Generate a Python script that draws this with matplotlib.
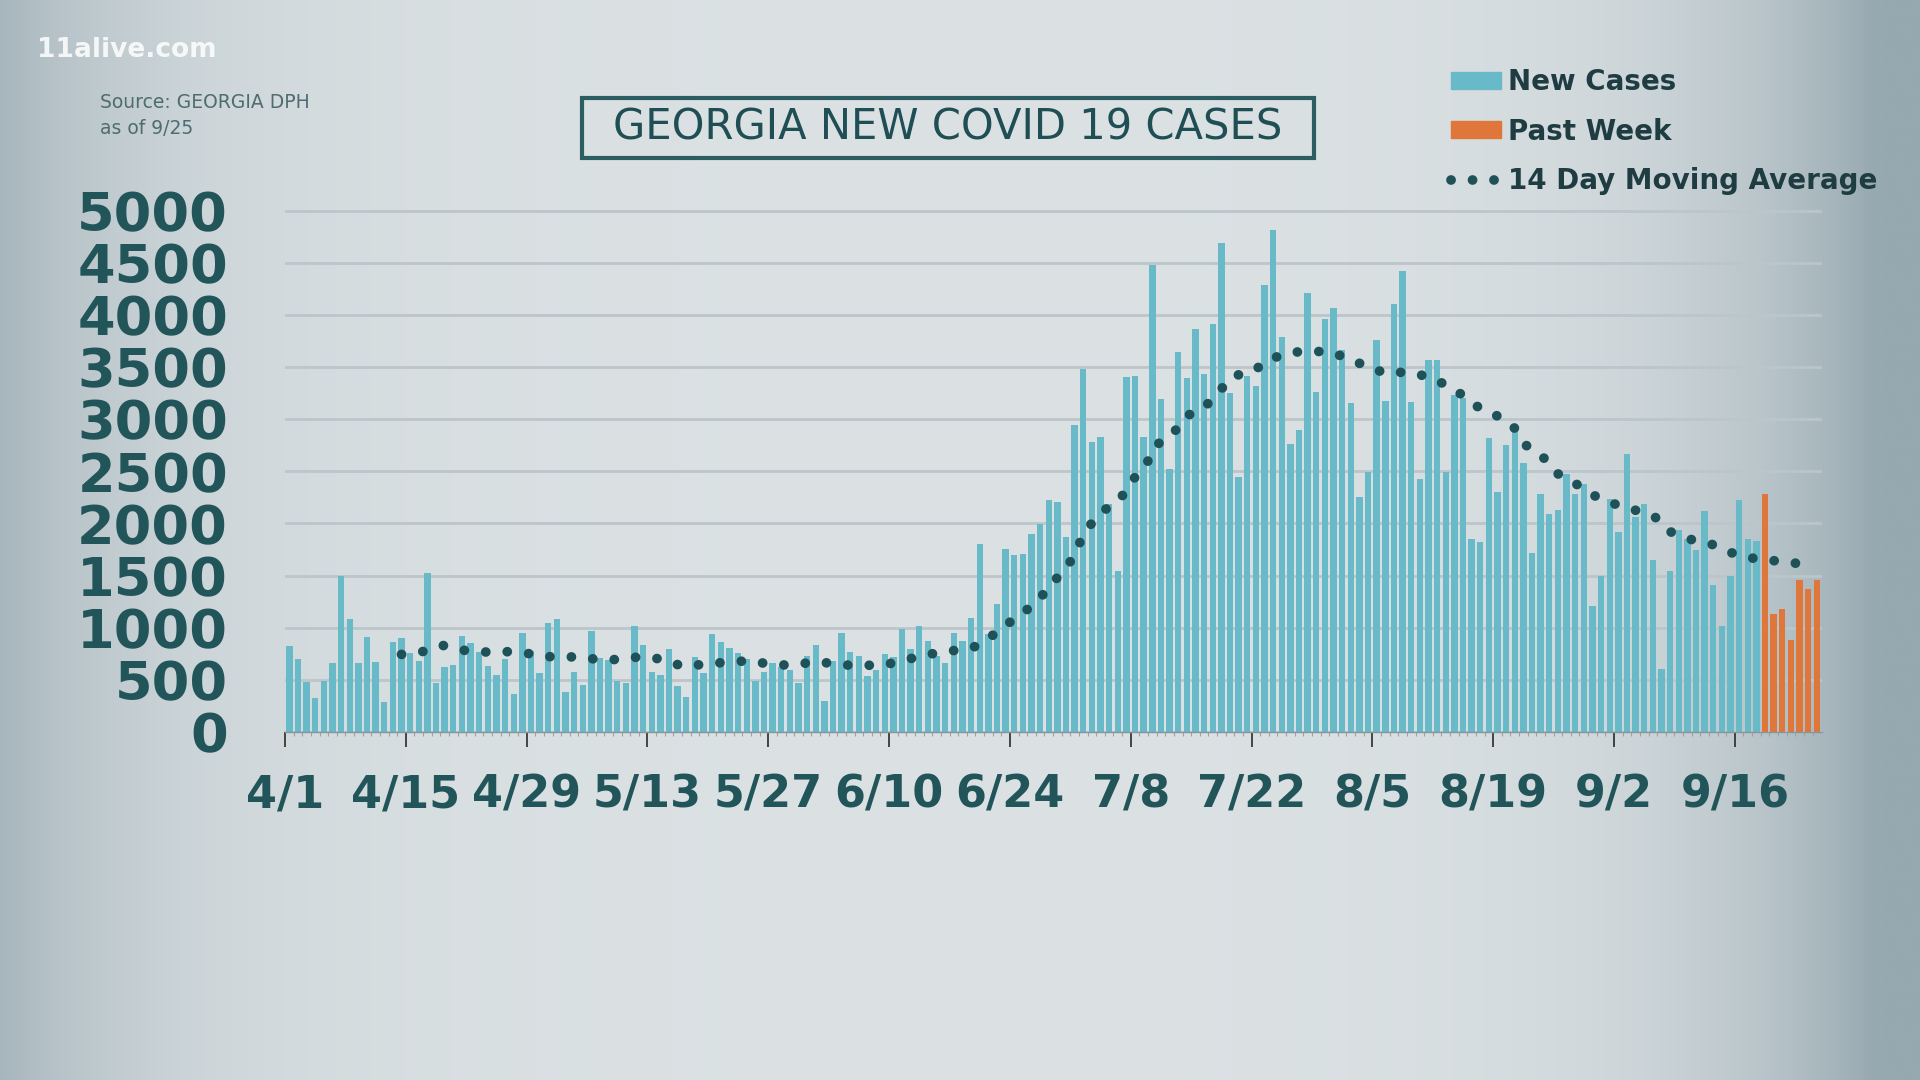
import numpy as np
import matplotlib
matplotlib.use('Agg')
import matplotlib.pyplot as plt
from matplotlib.patches import Patch, Rectangle
from matplotlib.lines import Line2D

# daily new cases 4/1 .. 9/18
new_cases = [
    820, 700, 479, 330, 489, 661, 1494, 1081, 661, 909,
    674, 288, 863, 902, 760, 678, 1527, 469, 621, 644,
    925, 849, 770, 634, 542, 700, 367, 948, 777, 562,
    1041, 1081, 387, 572, 453, 965, 711, 694, 489, 469,
    1021, 836, 572, 545, 793, 440, 337, 720, 562, 942,
    859, 810, 754, 700, 489, 572, 661, 621, 595, 469,
    727, 833, 297, 678, 949, 770, 727, 535, 595, 750,
    717, 992, 793, 1018, 876, 727, 661, 949, 876, 1097,
    1801, 942, 1229, 1752, 1695, 1709, 1900, 1990, 2221, 2204,
    1867, 2941, 3477, 2783, 2826, 2191, 1543, 3404, 3414, 2832,
    4478, 3189, 2518, 3645, 3398, 3867, 3437, 3910, 4686, 3249,
    2446, 3414, 3318, 4287, 4815, 3784, 2766, 2892, 4207, 3265,
    3959, 4065, 3662, 3156, 2254, 2495, 3761, 3179, 4105, 4422,
    3166, 2429, 3563, 3563, 2495, 3229, 3199, 1851, 1824, 2816,
    2297, 2753, 2885, 2578, 1719, 2280, 2092, 2132, 2479, 2287,
    2380, 1213, 1494, 2231, 1917, 2670, 2066, 2191, 1653, 605,
    1543, 1940, 1851, 1745, 2122, 1411, 1018, 1494, 2221, 1851,
    1834,
]
# 9/19 .. 9/25
past_week = [2280, 1130, 1180, 882, 1461, 1372, 1461]

# 14 day moving average (day index from 4/1, value)
ma_days = [13.0, 15.4, 17.8, 20.3, 22.8, 25.3, 28.0, 30.4, 32.8, 35.4,
           38.0, 40.5, 43.2, 45.6, 48.2, 50.9, 53.4, 56.0, 58.5, 61.1,
           63.7, 66.3, 69.0, 71.5, 74.0, 76.6, 79.1, 81.3, 83.3, 85.4,
           87.2, 88.8, 90.4, 91.5, 92.7, 94.4, 96.3, 97.6, 99.3, 100.3,
           102.4, 103.8, 106.0, 107.7, 109.3, 111.7, 113.5, 116.1, 118.2, 120.5,
           122.8, 125.1, 127.2, 129.4, 131.8, 133.8, 136.0, 137.9, 139.9, 141.9,
           143.3, 145.2, 146.8, 148.8, 151.0, 153.4, 155.8, 158.2, 159.9, 162.4,
           164.8, 167.1, 169.4, 172.0, 174.3, 176.7]
ma_values = [744, 770, 830, 783, 767, 770, 750, 720, 720, 700,
             694, 720, 700, 628, 651, 671, 684, 644, 642, 678,
             644, 638, 644, 694, 744, 777, 803, 915, 1041, 1167,
             1305, 1462, 1619, 1801, 1976, 2125, 2237, 2406, 2565, 2743,
             2859, 3024, 3110, 3262, 3411, 3460, 3573, 3642, 3649, 3649,
             3579, 3497, 3437, 3454, 3411, 3338, 3229, 3107, 3034, 2922,
             2750, 2644, 2485, 2396, 2274, 2191, 2132, 2066, 1924, 1847,
             1801, 1719, 1669, 1643, 1626, 1550]

tick_days = [0, 14, 28, 42, 56, 70, 84, 98, 112, 126, 140, 154, 168]
tick_labels = ['4/1', '4/15', '4/29', '5/13', '5/27', '6/10', '6/24',
               '7/8', '7/22', '8/5', '8/19', '9/2', '9/16']
y_ticks = [0, 500, 1000, 1500, 2000, 2500, 3000, 3500, 4000, 4500, 5000]

teal = '#69bac9'
orange = '#e0773a'
dot_color = '#1f5158'
text_color = '#22555a'
dots = (0, (0.01, 2.2))

fig = plt.figure(figsize=(19.2, 10.8), dpi=100)

# background vignette, darker only near the side edges
bg = fig.add_axes([0, 0, 1, 1], zorder=-10)
xx, yy = np.meshgrid(np.linspace(-1, 1, 400), np.linspace(-1, 1, 220))
t = np.clip(np.abs(xx + 0.05) ** 6 * 0.85 + np.abs(xx) ** 1.5 * 0.12, 0, 1)
center = np.array([220, 226, 228]) / 255
edge = np.array([150, 168, 176]) / 255
img = center[None, None, :] * (1 - t[..., None]) + edge[None, None, :] * t[..., None]
bg.imshow(img, aspect='auto', extent=[0, 1, 0, 1], interpolation='bicubic')
bg.set_axis_off()

ax = fig.add_axes([285 / 1920, 348 / 1080, 1537 / 1920, 531.8 / 1080])
ax.patch.set_alpha(0)

days = np.arange(len(new_cases))
week_days = np.arange(len(new_cases), len(new_cases) + len(past_week))
ax.bar(days, new_cases, width=0.74, color=teal, zorder=2)
ax.bar(week_days, past_week, width=0.74, color=orange, zorder=2)
ax.plot(ma_days, ma_values, color=dot_color, lw=7, linestyle=dots,
        dash_capstyle='round', zorder=3)

ax.set_xlim(-0.5, 177.6)
ax.set_ylim(0, 5100)
ax.set_yticks(y_ticks)
ax.set_yticklabels([str(v) for v in y_ticks])
ax.set_xticks([d - 0.5 for d in tick_days])
ax.set_xticklabels(tick_labels)
ax.set_xticks(np.arange(len(days) + len(week_days)) - 0.5, minor=True)

ax.grid(axis='y', color='#bcc5c9', lw=2, zorder=0)
for s in ['top', 'right', 'left']:
    ax.spines[s].set_visible(False)
ax.spines['bottom'].set_color('#8a9599')
ax.spines['bottom'].set_linewidth(1)

ax.tick_params(axis='y', length=0, pad=41, labelsize=39, labelcolor=text_color)
ax.tick_params(axis='x', which='major', length=11, width=1.2, color='#2a2a2a',
               pad=19, labelsize=32, labelcolor=text_color)
ax.tick_params(axis='x', which='minor', length=3, width=0.8, color='#9aa4a8')
for lab in ax.get_xticklabels() + ax.get_yticklabels():
    lab.set_fontweight('bold')

# title box
fig.patches.append(Rectangle((582 / 1920, 1 - 158 / 1080), 732 / 1920, 60 / 1080,
                             transform=fig.transFigure, fill=False,
                             edgecolor='#2b5d62', lw=3))
fig.text(948 / 1920, 1 - 128 / 1080, 'GEORGIA NEW COVID 19 CASES',
         ha='center', va='center', fontsize=30, color='#1f4f54')

fig.text(37 / 1920, 1 - 50 / 1080, '11alive.com', ha='left', va='center',
         fontsize=19, fontweight='bold', color='white', alpha=0.85)
fig.text(100 / 1920, 1 - 103 / 1080, 'Source: GEORGIA DPH', ha='left', va='center',
         fontsize=13.5, color='#4f6c71')
fig.text(100 / 1920, 1 - 129 / 1080, 'as of 9/25', ha='left', va='center',
         fontsize=13.5, color='#4f6c71')

handles = [Patch(color=teal), Patch(color=orange),
           Line2D([], [], color=dot_color, lw=7, linestyle=dots,
                  dash_capstyle='round')]
fig.legend(handles, ['New Cases', 'Past Week', '14 Day Moving Average'],
           loc='upper left', bbox_to_anchor=(1451 / 1920, 1 - 68 / 1080),
           frameon=False, prop={'size': 20, 'weight': 'bold'},
           labelcolor='#1e3c41', handlelength=1.8, handleheight=0.55,
           handletextpad=0.25, labelspacing=0.78, borderpad=0, borderaxespad=0)

fig.savefig('out.png', dpi=100)
